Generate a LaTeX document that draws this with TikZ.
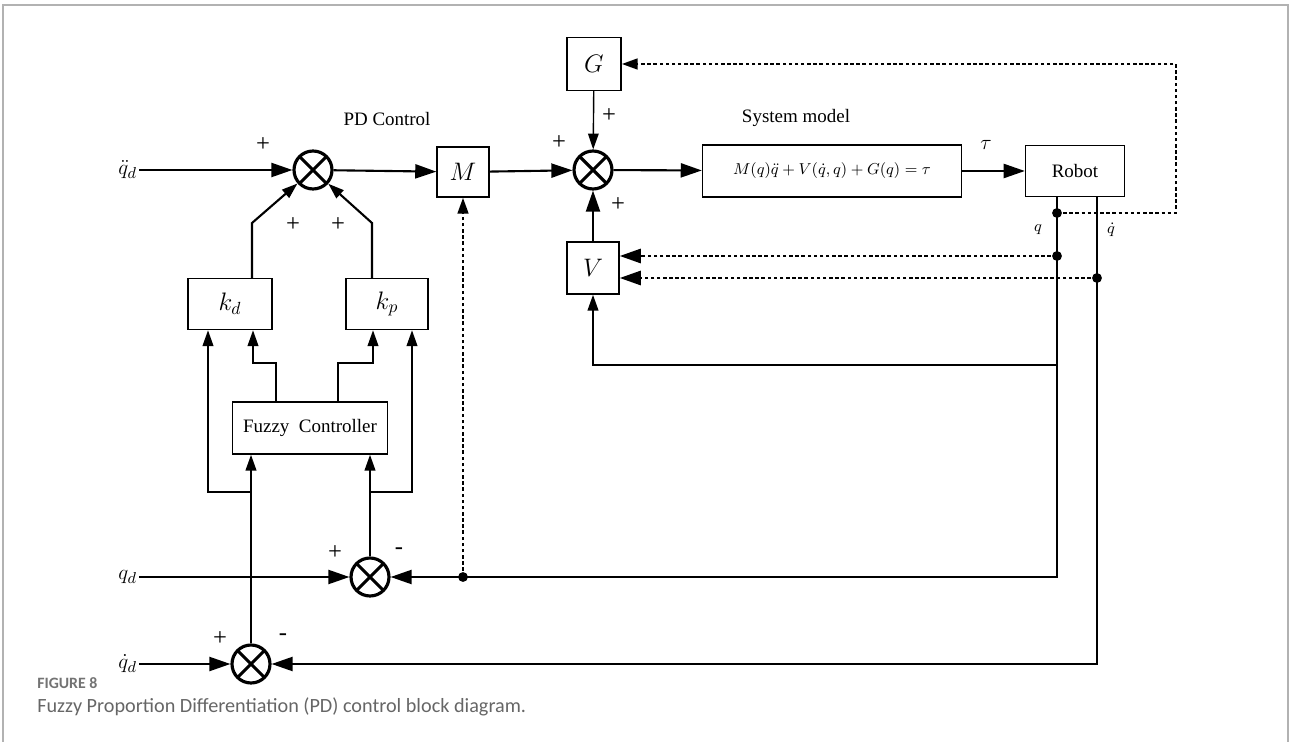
\documentclass[tikz,border=0pt]{standalone}
\usepackage{amsmath}
\usepackage{fontspec}
\setmainfont{Liberation Serif}
\newfontfamily\capfont{Carlito}
\usetikzlibrary{arrows.meta}

\begin{document}
\begin{tikzpicture}[x=0.02cm, y=-0.02cm,
	blk/.style={draw, line width=0.8pt, inner sep=0pt, font=\fontsize{14}{16}\selectfont},
	txtblk/.style={draw, line width=0.8pt, inner sep=0pt, font=\fontsize{10.8}{13}\selectfont},
	sumnode/.style={circle, draw, line width=1.8pt, minimum size=0.76cm, inner sep=0pt,
		path picture={\draw[line width=1.8pt] (path picture bounding box.north west) -- (path picture bounding box.south east)
			(path picture bounding box.north east) -- (path picture bounding box.south west);}},
	wire/.style={line width=1.2pt},
	dotwire/.style={line width=1.5pt, dash pattern=on 2pt off 1.5pt},
	big/.style={-{Triangle[length=12pt,width=8pt]}},
	small/.style={-{Triangle[length=9pt,width=6pt]}},
	sgn/.style={font=\fontsize{14}{16}\selectfont},
	lbl/.style={font=\fontsize{10.8}{13}\selectfont},
	sig/.style={font=\fontsize{13}{15}\selectfont, inner sep=1pt},
	tap/.style={circle, fill, inner sep=0pt, minimum size=5.6pt}
	]
	\useasboundingbox (0,0) rectangle (1290,742);
	% frame
	\draw[black!30, line width=0.9pt] (3,742) -- (3,5) -- (1288,5) -- (1288,742);
	
	% blocks
	\node[blk, minimum width=1.04cm, minimum height=1cm] (M) at (463,172) {$M$};
	\node[blk, minimum width=1.08cm, minimum height=1.06cm] (G) at (594,64) {$G$};
	\node[blk, minimum width=1.04cm, minimum height=1.04cm] (V) at (593,268) {$V$};
	\node[blk, minimum width=1.68cm, minimum height=1.02cm] (kd) at (230,304) {$k_d$};
	\node[blk, minimum width=1.64cm, minimum height=1.02cm] (kp) at (387,304) {$k_p$};
	\node[txtblk, minimum width=3.1cm, minimum height=1.04cm] (fc) at (310,428) {Fuzzy\ \ Controller};
	\node[blk, minimum width=5.18cm, minimum height=1.04cm, font=\fontsize{9}{11}\selectfont] (sys) at (832,171)
		{$M(q)\ddot{q}+V(\dot{q},q)+G(q)=\tau$};
	\node[txtblk, minimum width=1.98cm, minimum height=1.02cm] (robot) at (1075,171) {Robot};
	
	% summing junctions
	\node[sumnode] (sumA) at (313,170) {};
	\node[sumnode] (sumB) at (593,170) {};
	\node[sumnode] (sumC) at (370,577) {};
	\node[sumnode] (sumD) at (251,664) {};
	
	% inputs
	\node[sig, anchor=east] (qdd) at (139,170) {$\ddot{q}_d$};
	\node[sig, anchor=east] (qd) at (139,577) {$q_d$};
	\node[sig, anchor=east] (dqd) at (139,664) {$\dot{q}_d$};
	
	% titles
	\node[lbl] (pdtitle) at (387,119) {PD Control};
	\node[lbl] (systitle) at (796,118) {System model};
	\node[sig] (tau) at (986,145) {$\tau$};
	\node[font=\fontsize{9}{11}\selectfont] (qlab) at (1038,230) {$q$};
	\node[font=\fontsize{9}{11}\selectfont] (dqlab) at (1111,230) {$\dot{q}$};
	
	% signs
	\node[sgn] (pA1) at (263,145) {+};
	\node[sgn] (pA2) at (293,225) {+};
	\node[sgn] (pA3) at (338,225) {+};
	\node[sgn] (pB1) at (609,116) {+};
	\node[sgn] (pB2) at (559,143) {+};
	\node[sgn] (pB3) at (618,205) {+};
	\node[sgn] (pC1) at (335,553) {+};
	\node[sgn] (mC1) at (399,551) {-};
	\node[sgn] (pD1) at (220,639) {+};
	\node[sgn] (mD1) at (283,637) {-};
	
	% bends and taps
	\coordinate (kdbend) at (252,223);
	\coordinate (kpbend) at (372,223);
	\coordinate (fcl) at (276,363);
	\coordinate (kdl) at (253,363);
	\coordinate (fcr) at (338,363);
	\coordinate (kpl) at (373,363);
	\coordinate (jl) at (251,492);
	\coordinate (jlo) at (208,492);
	\coordinate (jr) at (370,492);
	\coordinate (jro) at (412,492);
	\coordinate (qtap) at (1057,213);
	\coordinate (qtap2) at (1057,256);
	\coordinate (dqtap) at (1097,278);
	\coordinate (qv) at (1057,365);
	\coordinate (qbot) at (1057,577);
	\coordinate (dqbot) at (1097,664);
	\coordinate (mtap) at (463,577);
	\coordinate (gloop) at (1176,64);
	
	% forward path
	\draw[wire, big] (qdd.east |- sumA) -- (sumA);
	\draw[wire, big] (sumA) -- (M);
	\draw[wire, big] (M) -- (sumB);
	\draw[line width=0.8pt, small] (G) -- (sumB);
	\draw[wire, big] (V) -- (sumB);
	\draw[wire, big] (sumB) -- (sys);
	\draw[wire, big] (sys) -- (robot);
	
	% gains
	\draw[wire, small] (kdbend |- kd.north) -- (kdbend) -- (sumA);
	\draw[wire, small] (kpbend |- kp.north) -- (kpbend) -- (sumA);
	\draw[wire, small] (fcl |- fc.north) -- (fcl) -- (kdl) -- (kdl |- kd.south);
	\draw[wire, small] (fcr |- fc.north) -- (fcr) -- (kpl) -- (kpl |- kp.south);
	
	% error signals
	\draw[wire, small] (sumD) -- (sumD |- fc.south);
	\draw[wire, small] (sumC) -- (sumC |- fc.south);
	\draw[wire, small] (jl) -- (jlo) -- (jlo |- kd.south);
	\draw[wire, small] (jr) -- (jro) -- (jro |- kp.south);
	\draw[wire, big] (qd.east |- sumC) -- (sumC);
	\draw[wire, big] (dqd.east |- sumD) -- (sumD);
	
	% feedback
	\draw[wire, big] (qtap |- robot.south) -- (qbot) -- (sumC);
	\draw[wire, big] (dqtap |- robot.south) -- (dqbot) -- (sumD);
	\draw[wire, small] (qv) -| (V);
	\draw[dotwire, small] (qtap) -| (gloop) -- (G);
	\draw[dotwire, big] (qtap2) -- (qtap2 -| V.east);
	\draw[dotwire, big] (dqtap) -- (dqtap -| V.east);
	\draw[dotwire, small] (mtap) -- (M);
	\node[tap] (t1) at (qtap) {};
	\node[tap] (t2) at (qtap2) {};
	\node[tap] (t3) at (dqtap) {};
	\node[tap] (t4) at (mtap) {};
	
	% caption
	\node[anchor=base west, inner sep=0pt, text=black!55, font=\capfont\bfseries\fontsize{9}{11}\selectfont] (figno) at (37,688) {FIGURE 8};
	\node[anchor=base west, inner sep=0pt, text=black!60, font=\capfont\fontsize{11.5}{13}\selectfont] (figcap) at (37,712)
		{Fuzzy Proportion Differentiation (PD) control block diagram.};
\end{tikzpicture}
\end{document}
